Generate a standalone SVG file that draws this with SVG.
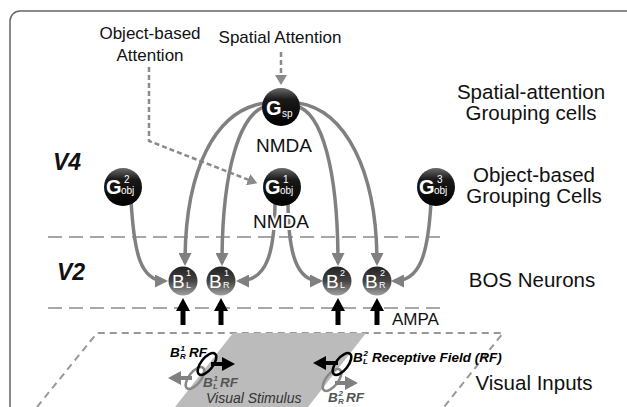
<svg xmlns="http://www.w3.org/2000/svg" width="627" height="407" viewBox="0 0 627 407">
<defs>
<style>
text{font-family:"Liberation Sans",Arial,sans-serif;}
.lbl{font-size:20.5px;fill:#111;text-anchor:middle;}
.att{font-size:17px;fill:#111;text-anchor:middle;}
.syn{font-size:19px;fill:#111;text-anchor:middle;}
.layer{font-size:23px;font-weight:bold;font-style:italic;fill:#111;}
.conn{fill:none;stroke:#808080;stroke-width:3.5;marker-end:url(#ah);}
.dsh{fill:none;stroke:#8a8a8a;stroke-width:2.5;stroke-dasharray:5 3;marker-end:url(#ahd);}
.lay{stroke:#8a8a8a;stroke-width:1.6;stroke-dasharray:14 7;}
.gt{fill:#fff;font-weight:bold;font-size:20px;}
.gs{fill:#fff;font-size:10px;}
.bt{fill:#fff;font-size:19px;}
.bs{fill:#fff;font-size:9px;}
.rf{font-size:13.5px;font-weight:bold;font-style:italic;}
.rfs{font-size:8px;font-weight:bold;font-style:italic;}
</style>
<marker id="ah" viewBox="0 0 13 13" refX="10" refY="6.5" markerWidth="13" markerHeight="13" markerUnits="userSpaceOnUse" orient="auto"><path d="M0,0 L13,6.5 L0,13 z" fill="#808080"/></marker>
<marker id="ahd" viewBox="0 0 10 12" refX="1" refY="6" markerWidth="10" markerHeight="12" markerUnits="userSpaceOnUse" orient="auto"><path d="M0,0 L10,6 L0,12 z" fill="#8a8a8a"/></marker>
<linearGradient id="gG" x1="0" y1="0" x2="0" y2="1"><stop offset="0" stop-color="#6a6a6a"/><stop offset="0.3" stop-color="#1a1a1a"/><stop offset="1" stop-color="#000"/></linearGradient>
<linearGradient id="gB" x1="0" y1="0" x2="0" y2="1"><stop offset="0" stop-color="#222"/><stop offset="0.5" stop-color="#444"/><stop offset="1" stop-color="#a0a0a0"/></linearGradient>
</defs>
<rect width="627" height="407" fill="#fff"/>
<path d="M10,407 V21 A10,10 0 0 1 20,11 H627" fill="none" stroke="#666" stroke-width="1.5"/>

<g id="layers">
<line class="lay" x1="48" y1="237" x2="447" y2="237"/>
<line class="lay" x1="48" y1="308" x2="447" y2="308"/>
<text class="layer" x="53" y="170">V4</text>
<text class="layer" x="57" y="280">V2</text>
</g>

<g id="visual-inputs">
<path d="M37,407 L97,333 L503,333 L444,407" fill="none" stroke="#999" stroke-width="2" stroke-dasharray="7 5"/>
<polygon points="233,333 366,333 308,407 175,407" fill="#bbb"/>
<text x="206" y="403" font-size="14" font-style="italic" fill="#333">Visual Stimulus</text>
<text class="lbl" x="534" y="390">Visual Inputs</text>
</g>

<g id="rf1">
<ellipse cx="195" cy="378" rx="6" ry="13" transform="rotate(38 195 378)" fill="none" stroke="#888" stroke-width="2.5"/>
<polygon points="192,376 181,376 181,371 168,378 181,385 181,380 192,380" fill="#808080"/>
<ellipse cx="207" cy="364" rx="6" ry="13" transform="rotate(38 207 364)" fill="none" stroke="#000" stroke-width="2.5"/>
<polygon points="211,362 222,362 222,357 235,364 222,371 222,366 211,366" fill="#000"/>
<text class="rf" x="170" y="357" fill="#000">B<tspan class="rfs" x="180.5" y="351">1</tspan><tspan class="rfs" x="180" y="359">R</tspan><tspan x="189" y="357">RF</tspan></text>
<text class="rf" x="203" y="387" fill="#555">B<tspan class="rfs" x="213.5" y="381">1</tspan><tspan class="rfs" x="213" y="389">L</tspan><tspan x="220" y="387">RF</tspan></text>
</g>

<g id="rf2">
<ellipse cx="332" cy="380" rx="6" ry="13" transform="rotate(38 332 380)" fill="none" stroke="#888" stroke-width="2.5"/>
<polygon points="335,381 345,381 345,376 358,383 345,390 345,385 335,385" fill="#808080"/>
<ellipse cx="342" cy="364" rx="6" ry="13" transform="rotate(38 342 364)" fill="none" stroke="#000" stroke-width="2.5"/>
<polygon points="338,361 326,361 326,356 313,363 326,370 326,365 338,365" fill="#000"/>
<text class="rf" x="353" y="362" fill="#000">B<tspan class="rfs" x="363.5" y="356">2</tspan><tspan class="rfs" x="363" y="364">L</tspan><tspan x="372" y="362">Receptive Field (RF)</tspan></text>
<text class="rf" x="328" y="402" fill="#555">B<tspan class="rfs" x="338.5" y="396">2</tspan><tspan class="rfs" x="338" y="404">R</tspan><tspan x="346" y="402">RF</tspan></text>
</g>

<g id="connectors">
<path class="dsh" d="M281,52 V76"/>
<path class="dsh" d="M149,67 V141 L249,180"/>
<path class="conn" d="M265,103 C215,110 185,170 185,263"/>
<path class="conn" d="M267,106 C240,112 222,170 222,263"/>
<path class="conn" d="M298,103 C345,110 377,170 377,263"/>
<path class="conn" d="M296,106 C322,112 338,170 338,263"/>
<path class="conn" d="M131,200 C134,252 140,281 165,281"/>
<path class="conn" d="M431,202 C428,255 420,281 394,281"/>
<path class="conn" d="M275,200 C275,255 266,281 239,281"/>
<path class="conn" d="M288,200 C288,255 297,281 320,281"/>
<path d="M183,298 L190,311 L185.5,311 L185.5,325 L180.5,325 L180.5,311 L176,311 z" fill="#000"/>
<path d="M221,298 L228,311 L223.5,311 L223.5,325 L218.5,325 L218.5,311 L214,311 z" fill="#000"/>
<path d="M338,298 L345,311 L340.5,311 L340.5,325 L335.5,325 L335.5,311 L331,311 z" fill="#000"/>
<path d="M377,298 L384,311 L379.5,311 L379.5,325 L374.5,325 L374.5,311 L370,311 z" fill="#000"/>
</g>

<g id="attention-labels">
<text class="att" x="150" y="39">Object-based</text>
<text class="att" x="150" y="61">Attention</text>
<text class="att" x="280" y="43">Spatial Attention</text>
</g>

<g id="G_sp">
<circle cx="281" cy="107" r="19" fill="url(#gG)"/>
<text class="gt" x="266" y="115">G</text><text class="gs" x="282" y="117">sp</text>
</g>
<g id="G1_obj">
<circle cx="282" cy="187" r="19" fill="url(#gG)"/>
<text class="gt" x="265" y="194">G</text><text class="gs" x="283" y="183">1</text><text class="gs" x="280" y="194">obj</text>
</g>
<g id="G2_obj">
<circle cx="123" cy="187" r="19" fill="url(#gG)"/>
<text class="gt" x="106" y="194">G</text><text class="gs" x="124" y="183">2</text><text class="gs" x="121" y="194">obj</text>
</g>
<g id="G3_obj">
<circle cx="436" cy="187" r="19" fill="url(#gG)"/>
<text class="gt" x="419" y="194">G</text><text class="gs" x="437" y="183">3</text><text class="gs" x="434" y="194">obj</text>
</g>

<g id="B1_L">
<circle cx="183" cy="281" r="14.5" fill="url(#gB)"/>
<text class="bt" x="172" y="288">B</text><text class="bs" x="186" y="276">1</text><text class="bs" x="186" y="288">L</text>
</g>
<g id="B1_R">
<circle cx="221" cy="281" r="14.5" fill="url(#gB)"/>
<text class="bt" x="209" y="288">B</text><text class="bs" x="224" y="276">1</text><text class="bs" x="223" y="288">R</text>
</g>
<g id="B2_L">
<circle cx="337" cy="281" r="14.5" fill="url(#gB)"/>
<text class="bt" x="326" y="288">B</text><text class="bs" x="340" y="276">2</text><text class="bs" x="340" y="288">L</text>
</g>
<g id="B2_R">
<circle cx="377" cy="281" r="14.5" fill="url(#gB)"/>
<text class="bt" x="365" y="288">B</text><text class="bs" x="380" y="276">2</text><text class="bs" x="379" y="288">R</text>
</g>

<g id="labels">
<text class="syn" x="284" y="152" stroke="#fff" stroke-width="4" paint-order="stroke">NMDA</text>
<text class="syn" x="281" y="228" stroke="#fff" stroke-width="4" paint-order="stroke">NMDA</text>
<text x="392" y="325" font-size="17" fill="#111">AMPA</text>
<text class="lbl" x="531" y="99">Spatial-attention</text>
<text class="lbl" x="531" y="120">Grouping cells</text>
<text class="lbl" x="534" y="182">Object-based</text>
<text class="lbl" x="534" y="203">Grouping Cells</text>
<text class="lbl" x="532" y="287">BOS Neurons</text>
</g>
</svg>
